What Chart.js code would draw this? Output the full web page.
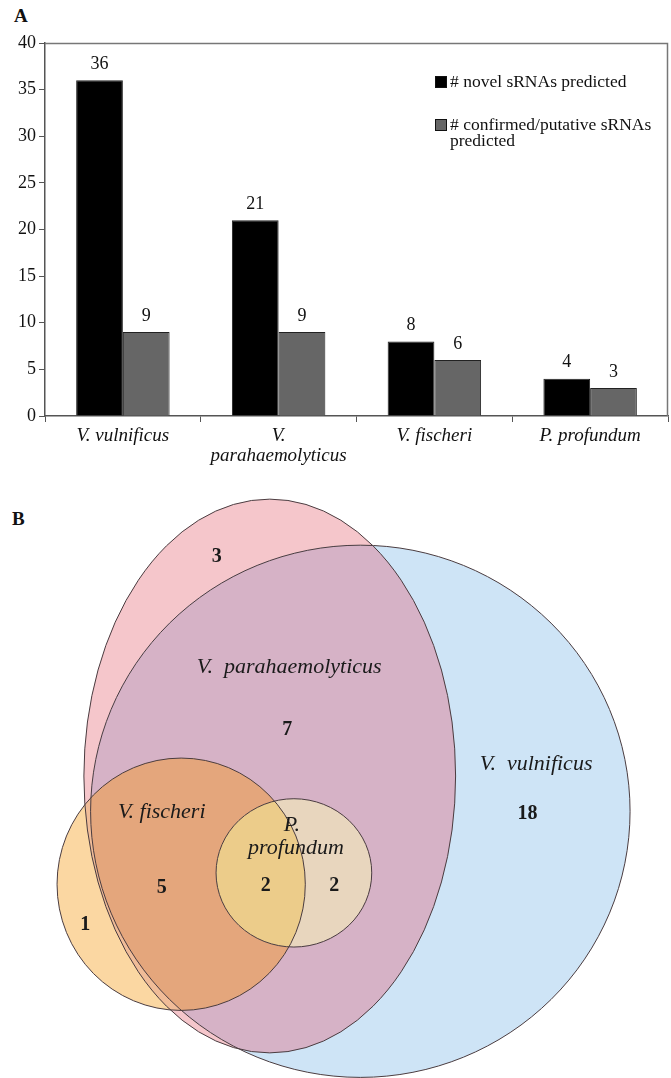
<!DOCTYPE html>
<html>
<head>
<meta charset="utf-8">
<script src="https://cdn.jsdelivr.net/npm/chart.js@4/dist/chart.umd.min.js"></script>
<style>
  body { margin: 0; background: #fff; }
  #wrap { position: relative; width: 671px; height: 1078px; }
  .panel { position: absolute; left: 0; }
  .tag { position: absolute; font: bold 19px "Liberation Serif", serif; color: #111; }
</style>
</head>
<body>
<div id="wrap">
  <div class="tag" style="left:14px;top:5px">A</div>
  <canvas id="barChart" class="panel" style="top:0" width="671" height="480"></canvas>
  <div class="tag" style="left:12px;top:508px">B</div>
  <canvas id="vennChart" class="panel" style="top:480px" width="671" height="598"></canvas>
</div>
<script>
// panel A data
var species = [['V. vulnificus'], ['V.', 'parahaemolyticus'], ['V. fischeri'], ['P. profundum']];
var novelPredicted = [36, 21, 8, 4];
var knownPredicted = [9, 9, 6, 3];
var seriesNames = ['# novel sRNAs predicted', '# confirmed/putative sRNAs predicted'];
var yTicks = [0, 5, 10, 15, 20, 25, 30, 35, 40];

// panel B data (venn layout units 0-100)
var vennSets = ['V. parahaemolyticus', 'V. vulnificus', 'V. fischeri', 'P. profundum'];
var vennCx = [40.2, 53.7, 27.0, 43.8];
var vennCy = [49.5, 55.4, 67.6, 65.7];
var vennRx = [27.7, 40.2, 18.5, 11.6];
var vennRy = [46.3, 44.5, 21.1, 12.4];
var vennCounts = ['3', '7', '18', '5', '2', '2', '1'];
var countX = [32.3, 42.8, 78.6, 24.1, 39.6, 49.8, 12.7];
var countY = [12.9, 41.8, 55.9, 68.2, 67.9, 67.9, 74.4];
var nameText = ['V.  parahaemolyticus', 'V.  vulnificus', 'V. fischeri', 'P.', 'profundum'];
var nameX = [43.1, 79.9, 24.1, 43.5, 44.1];
var nameY = [31.3, 47.5, 55.5, 57.8, 61.6];

var serif = '"Liberation Serif", "Times New Roman", serif';

var barLabels = {
  id: 'barLabels',
  afterDatasetsDraw(chart) {
    var ctx = chart.ctx;
    ctx.save();
    ctx.font = '18px ' + serif;
    ctx.fillStyle = '#111';
    ctx.textAlign = 'center';
    ctx.textBaseline = 'bottom';
    chart.data.datasets.forEach(function(ds, i) {
      chart.getDatasetMeta(i).data.forEach(function(bar, j) {
        ctx.fillText(ds.data[j], bar.x, bar.y - 7);
      });
    });
    ctx.restore();
  }
};

var frameAndLegend = {
  id: 'frameAndLegend',
  afterDraw(chart) {
    var ctx = chart.ctx, a = chart.chartArea;
    ctx.save();
    ctx.strokeStyle = '#777';
    ctx.lineWidth = 1.5;
    ctx.beginPath();
    ctx.moveTo(a.left, a.top + 0.5);
    ctx.lineTo(a.right - 0.5, a.top + 0.5);
    ctx.lineTo(a.right - 0.5, a.bottom);
    ctx.stroke();
    // legend
    ctx.font = '17.5px ' + serif;
    ctx.textBaseline = 'middle';
    ctx.fillStyle = '#111';
    var rows = [[seriesNames[0]], ['# confirmed/putative sRNAs', 'predicted']];
    var ys = [82, 125];
    chart.data.datasets.forEach(function(ds, i) {
      ctx.fillStyle = ds.backgroundColor;
      ctx.fillRect(435, ys[i] - 6, 12, 12);
      ctx.strokeStyle = '#111';
      ctx.lineWidth = 1;
      ctx.strokeRect(435.5, ys[i] - 5.5, 11, 11);
      ctx.fillStyle = '#111';
      rows[i].forEach(function(t, k) {
        ctx.fillText(t, 450, ys[i] + k * 16);
      });
    });
    ctx.restore();
  }
};

new Chart(document.getElementById('barChart'), {
  type: 'bar',
  data: {
    labels: species,
    datasets: [{
      label: seriesNames[0],
      data: novelPredicted,
      backgroundColor: '#000',
      borderColor: '#222',
      borderWidth: 1
    }, {
      label: seriesNames[1],
      data: knownPredicted,
      backgroundColor: '#666',
      borderColor: '#222',
      borderWidth: 1
    }]
  },
  options: {
    responsive: false,
    animation: false,
    devicePixelRatio: 1,
    layout: { padding: { top: 43, right: 3, left: 0, bottom: 0 } },
    plugins: { legend: { display: false }, tooltip: { enabled: false } },
    datasets: { bar: { categoryPercentage: 0.6, barPercentage: 1 } },
    scales: {
      x: {
        grid: { drawOnChartArea: false, tickLength: 6, color: '#555' },
        border: { color: '#555', width: 1.5 },
        ticks: { font: { family: serif, size: 19, style: 'italic', lineHeight: 1.05 }, color: '#111', padding: 4 },
        afterFit: function(s) { s.height = 64; }
      },
      y: {
        min: 0, max: 40,
        afterBuildTicks: function(s) { s.ticks = yTicks.map(function(v) { return { value: v }; }); },
        grid: { drawOnChartArea: false, tickLength: 6, color: '#555' },
        border: { color: '#555', width: 1.5 },
        ticks: { font: { family: serif, size: 18 }, color: '#111', padding: 3 },
        afterFit: function(s) { s.width = 45; }
      }
    }
  },
  plugins: [barLabels, frameAndLegend]
});

// venn panel: ellipses drawn through the chart's scales
function ellipsePath(ctx, sx, sy, i) {
  var px = sx.getPixelForValue(vennCx[i]), py = sy.getPixelForValue(vennCy[i]);
  var rx = Math.abs(sx.getPixelForValue(vennCx[i] + vennRx[i]) - px);
  var ry = Math.abs(sy.getPixelForValue(vennCy[i] + vennRy[i]) - py);
  ctx.beginPath();
  ctx.ellipse(px, py, rx, ry, 0, 0, Math.PI * 2);
}

var vennDraw = {
  id: 'vennDraw',
  beforeDatasetsDraw(chart) {
    var ctx = chart.ctx, sx = chart.scales.x, sy = chart.scales.y;
    function fill(i, color, clips) {
      ctx.save();
      (clips || []).forEach(function(c) { ellipsePath(ctx, sx, sy, c); ctx.clip(); });
      ellipsePath(ctx, sx, sy, i);
      ctx.fillStyle = color;
      ctx.fill();
      ctx.restore();
    }
    fill(0, '#F5C6CB');
    fill(1, '#CEE4F6');
    fill(1, '#D6B2C6', [0]);
    fill(2, '#FBD7A2');
    fill(2, '#F0BC98', [0]);
    fill(2, '#E4A67C', [0, 1]);
    fill(3, '#E8D6BE');
    fill(3, '#ECCC8A', [2]);
    ctx.save();
    ctx.strokeStyle = '#4a3c40';
    ctx.lineWidth = 1;
    [0, 1, 2, 3].forEach(function(i) { ellipsePath(ctx, sx, sy, i); ctx.stroke(); });
    ctx.restore();
  },
  afterDatasetsDraw(chart) {
    var ctx = chart.ctx, sx = chart.scales.x, sy = chart.scales.y;
    ctx.save();
    ctx.fillStyle = '#1a1a1a';
    ctx.textAlign = 'center';
    ctx.textBaseline = 'middle';
    ctx.font = 'italic 22px ' + serif;
    nameText.forEach(function(t, i) {
      ctx.fillText(t, sx.getPixelForValue(nameX[i]), sy.getPixelForValue(nameY[i]));
    });
    ctx.font = 'bold 20px ' + serif;
    vennCounts.forEach(function(t, i) {
      ctx.fillText(t, sx.getPixelForValue(countX[i]), sy.getPixelForValue(countY[i]));
    });
    ctx.restore();
  }
};

new Chart(document.getElementById('vennChart'), {
  type: 'scatter',
  data: {
    datasets: vennSets.map(function(name, i) {
      return { label: name, data: [{ x: vennCx[i], y: vennCy[i] }], pointRadius: 0 };
    })
  },
  options: {
    responsive: false,
    animation: false,
    devicePixelRatio: 1,
    layout: { padding: 0 },
    plugins: { legend: { display: false }, tooltip: { enabled: false } },
    scales: {
      x: { type: 'linear', min: 0, max: 100, display: false },
      y: { type: 'linear', min: 0, max: 100, reverse: true, display: false }
    }
  },
  plugins: [vennDraw]
});
</script>
</body>
</html>
